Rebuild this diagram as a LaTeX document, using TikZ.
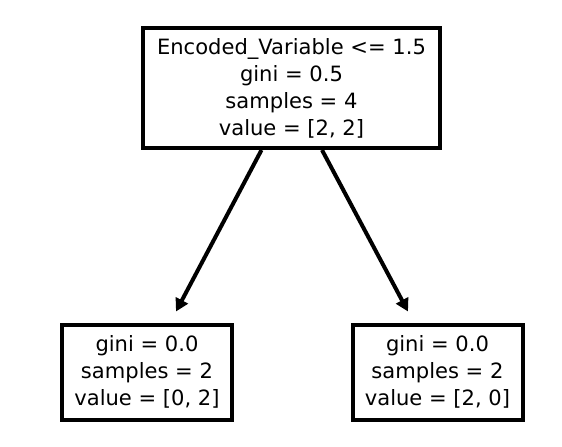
\documentclass[tikz,border=0pt]{standalone}
\usepackage{fontspec}
\setmainfont{DejaVu Sans}
\usetikzlibrary{arrows.meta,calc}
\begin{document}
\begin{tikzpicture}[x=0.75pt,y=-0.75pt,
  treebox/.style={draw=black,line width=3pt,fill=white,align=center,inner sep=0pt,
    font=\fontsize{15.8}{20.3}\selectfont},
  conn/.style={line width=3pt,-{Triangle[length=9.5pt,width=10pt]}}]
\useasboundingbox (0,0) rectangle (562,447);
\node[treebox,minimum width=297*0.75pt,minimum height=120*0.75pt] (root) at (291.5,88)
  {Encoded\_Variable <= 1.5\\gini = 0.5\\samples = 4\\value = [2, 2]};
\node[treebox,minimum width=170*0.75pt,minimum height=95*0.75pt] (l) at (147,372)
  {gini = 0.0\\samples = 2\\value = [0, 2]};
\node[treebox,minimum width=170*0.75pt,minimum height=95*0.75pt] (r) at (437.5,372)
  {gini = 0.0\\samples = 2\\value = [2, 0]};
\draw[conn] ($(root.south)+(-30,0)$) -- ($(l.north)+(29,-11)$);
\draw[conn] ($(root.south)+(30.5,0)$) -- ($(r.north)+(-29.5,-11)$);
\end{tikzpicture}
\end{document}
